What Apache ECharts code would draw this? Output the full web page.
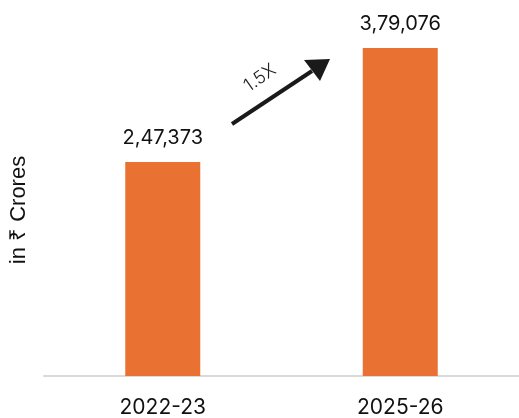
<!DOCTYPE html>
<html>
<head>
<meta charset="utf-8">
<script src="https://cdn.jsdelivr.net/npm/echarts@6/dist/echarts.min.js"></script>
<style>
html,body{margin:0;padding:0;background:#fff;}
#c{width:519px;height:418px;}
</style>
</head>
<body>
<div id="c"></div>
<script>
const categories = ['2022-23', '2025-26'];
const values = [247373, 379076];
const valueLabels = ['2,47,373', '3,79,076'];
const growthLabel = '1.5X';
const axisName = 'in ₹ Crores';

const chart = echarts.init(document.getElementById('c'), null, {renderer: 'canvas'});
const FONT = 'Inter, "Liberation Sans", sans-serif';
chart.setOption({
  animation: false,
  grid: {left: 40, right: 0, top: 30, bottom: 38},
  xAxis: {
    type: 'category',
    data: categories,
    axisLine: {lineStyle: {color: '#d9d9d9', width: 2}},
    axisTick: {show: false},
    axisLabel: {color: '#111', fontSize: 21, fontFamily: FONT, margin: 21}
  },
  yAxis: {
    type: 'value',
    min: 0, max: 400000,
    name: axisName,
    nameLocation: 'middle',
    nameRotate: 90,
    nameGap: 14,
    nameTextStyle: {color: '#111', fontSize: 22, fontFamily: '"Liberation Sans", Arial, sans-serif', padding: [0, 14, 0, 0]},
    axisLine: {show: false},
    axisTick: {show: false},
    axisLabel: {show: false},
    splitLine: {show: false}
  },
  series: [{
    type: 'bar',
    data: values,
    barWidth: 75,
    itemStyle: {color: '#E97132'},
    label: {
      show: true,
      position: 'top',
      distance: 14,
      color: '#111',
      fontSize: 20,
      fontFamily: FONT,
      formatter: p => valueLabels[p.dataIndex]
    }
  }],
  graphic: [
    {
      type: 'line',
      shape: {x1: 232, y1: 124, x2: 312, y2: 71},
      style: {stroke: '#1a1a1a', lineWidth: 4}
    },
    {
      type: 'polygon',
      shape: {points: [[330, 59], [304, 60], [320, 81]]},
      style: {fill: '#1a1a1a'}
    },
    {
      type: 'text',
      x: 260, y: 78,
      rotation: 35 * Math.PI / 180,
      style: {text: growthLabel, fill: '#222', fontSize: 18, fontFamily: FONT, fontWeight: 300, align: 'center', verticalAlign: 'middle'}
    }
  ]
});
</script>
</body>
</html>
